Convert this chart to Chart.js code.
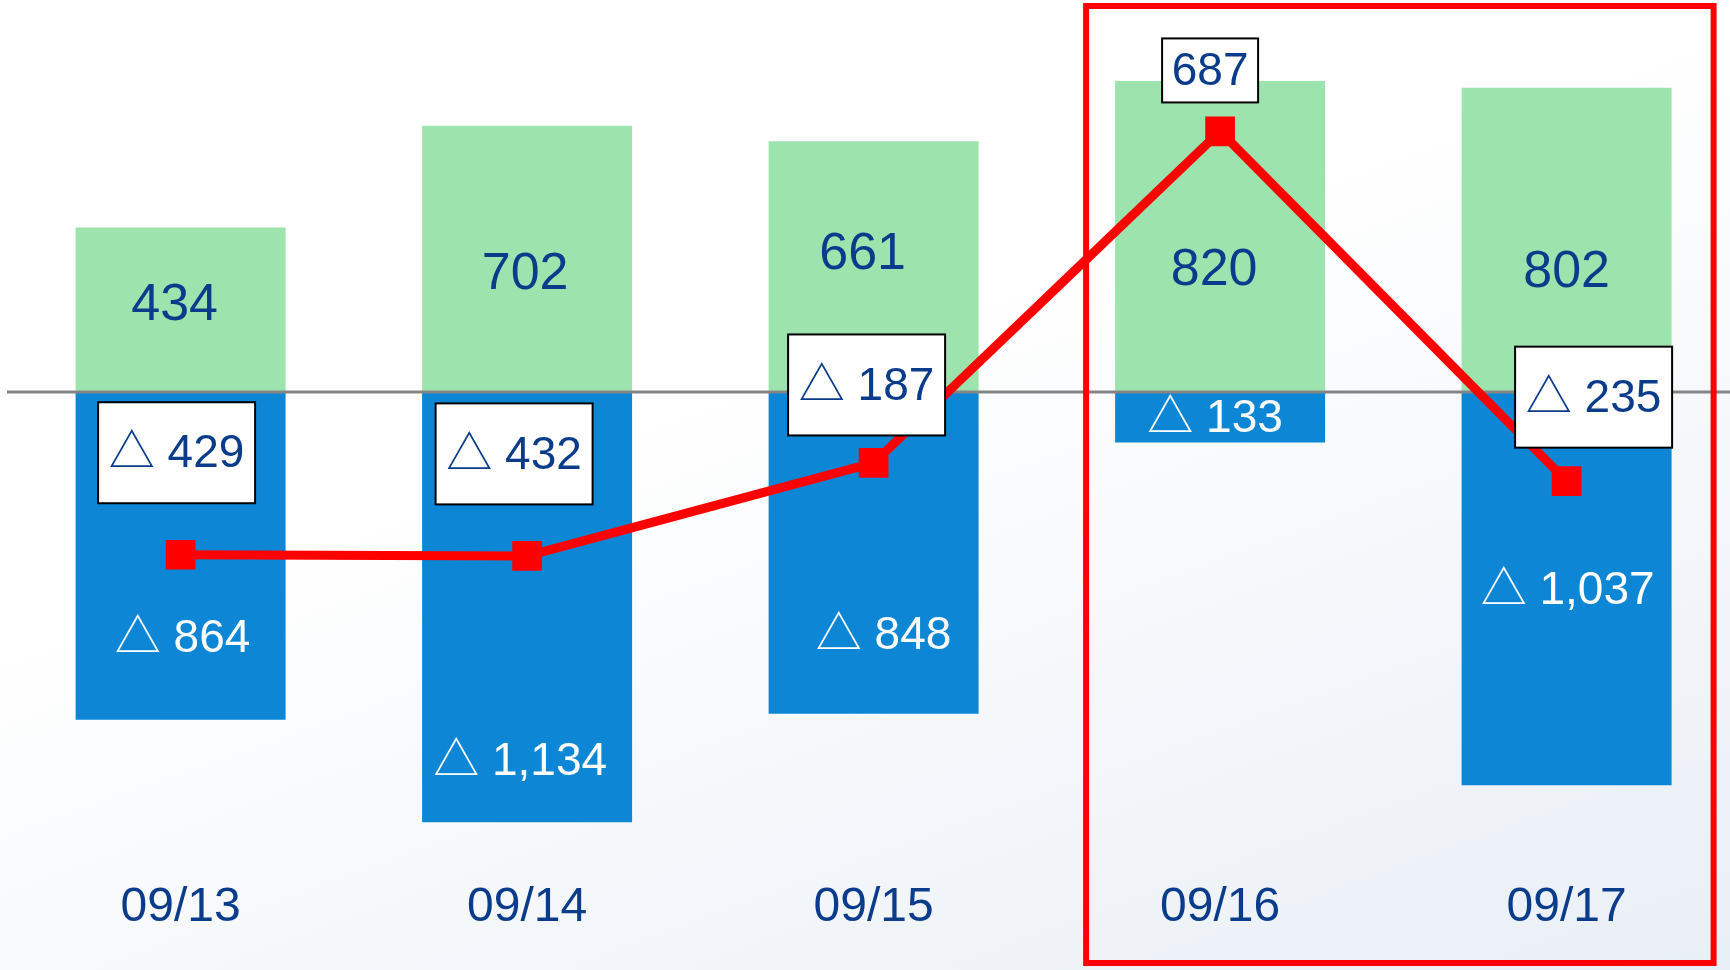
<!DOCTYPE html>
<html><head><meta charset="utf-8">
<script src="https://cdn.jsdelivr.net/npm/chart.js@4/dist/chart.umd.min.js"></script>
<style>
html,body{margin:0;padding:0;width:1730px;height:970px;overflow:hidden;
background:linear-gradient(160deg,#ffffff 0%,#ffffff 40%,#f3f6fa 72%,#e9eff6 100%);}
canvas{display:block;}
</style></head><body>
<canvas id="c" width="1740" height="970"></canvas>
<script>
const categories = ['09/13','09/14','09/15','09/16','09/17'];
const positiveValues = [434, 702, 661, 820, 802];
const negativeValues = [-864, -1134, -848, -133, -1037];
const netValues = [-429, -432, -187, 687, -235];
const highlighted = ['09/16','09/17'];

// label nudges in pixels (layout only)
const posLabelOffset = [[-6,-4.5],[-2,15.5],[-11,-11.5],[-6,34.5],[0,32.5]];
const negLabelOffset = [[2,83.5],[-7,155],[10,83],[-5,2],[1,3]];
const netLabelOffset = [[-4,-102],[-13,-102],[-7,-78],[-10,-61],[27,-84]];

const NAVY = '#0B3C8B';
const FONT = "'Liberation Sans', Arial, 'Noto Sans CJK JP', sans-serif";
function fmt(v){ const s = Math.abs(v).toLocaleString('en-US'); return v < 0 ? '△ ' + s : s; }

const decor = {
  id: 'decor',
  beforeDatasetDraw(chart, args) {
    if (args.index !== 2) return;
    const y = chart.scales.y.getPixelForValue(0);
    const ctx = chart.ctx;
    ctx.save();
    ctx.strokeStyle = '#858585'; ctx.lineWidth = 3;
    ctx.beginPath(); ctx.moveTo(7, y); ctx.lineTo(chart.width, y); ctx.stroke();
    ctx.restore();
  },
  afterDatasetDraw(chart, args) {
    if (args.index !== 0 && args.index !== 1) return;
    const ctx = chart.ctx;
    const pos = args.index === 0;
    const vals = pos ? positiveValues : negativeValues;
    const offs = pos ? posLabelOffset : negLabelOffset;
    ctx.save();
    ctx.font = (pos ? '52px ' : '46px ') + FONT;
    ctx.fillStyle = pos ? NAVY : '#ffffff';
    ctx.textAlign = 'center'; ctx.textBaseline = 'middle';
    args.meta.data.forEach((bar, i) => {
      const cy = (bar.y + bar.base) / 2;
      ctx.fillText(fmt(vals[i]), bar.x + offs[i][0], cy + offs[i][1]);
    });
    ctx.restore();
  },
  afterDatasetsDraw(chart) {
    const ctx = chart.ctx;
    const meta = chart.getDatasetMeta(2);
    ctx.save();
    ctx.font = '46px ' + FONT;
    ctx.textAlign = 'center'; ctx.textBaseline = 'middle';
    meta.data.forEach((pt, i) => {
      const v = netValues[i];
      const w = v < 0 ? 157 : 96, h = v < 0 ? 101 : 64;
      const cx = pt.x + netLabelOffset[i][0], cy = pt.y + netLabelOffset[i][1];
      ctx.fillStyle = '#ffffff'; ctx.fillRect(cx - w/2, cy - h/2, w, h);
      ctx.strokeStyle = '#000000'; ctx.lineWidth = 2; ctx.strokeRect(cx - w/2, cy - h/2, w, h);
      ctx.fillStyle = NAVY; ctx.fillText(fmt(v), cx, cy + 2);
    });
    const xs = chart.scales.x;
    const i0 = categories.indexOf(highlighted[0]);
    const i1 = categories.indexOf(highlighted[highlighted.length - 1]);
    const left = xs.getPixelForValue(i0) - 134;
    const right = xs.getPixelForValue(i1) + 147;
    ctx.strokeStyle = '#ff0000'; ctx.lineWidth = 6;
    ctx.strokeRect(left, 6, right - left, 957);
    ctx.restore();
  }
};

new Chart(document.getElementById('c'), {
  type: 'bar',
  data: {
    labels: categories,
    datasets: [
      { label: 'plus', data: positiveValues, backgroundColor: '#9DE3AE', order: 1,
        barPercentage: 0.606, categoryPercentage: 1 },
      { label: 'minus', data: negativeValues, backgroundColor: '#0D87D5', order: 2,
        barPercentage: 0.606, categoryPercentage: 1 },
      { type: 'line', label: 'net', data: netValues, order: 0,
        borderColor: '#FF0000', borderWidth: 9, tension: 0, fill: false,
        pointStyle: 'rect', pointRadius: 21, pointBackgroundColor: '#FF0000',
        pointBorderWidth: 0, pointHoverRadius: 21 }
    ]
  },
  options: {
    responsive: false,
    devicePixelRatio: 1,
    animation: false,
    layout: { autoPadding: false, padding: { top: 12.7, bottom: 2.2, left: 7.35, right: 0.15 } },
    plugins: { legend: { display: false }, tooltip: { enabled: false } },
    scales: {
      x: {
        stacked: true,
        grid: { display: false, drawTicks: false },
        border: { display: false },
        ticks: { color: NAVY, font: { size: 48, family: FONT }, padding: 31.5 }
      },
      y: { stacked: true, display: false, min: -1200, max: 1000 }
    }
  },
  plugins: [decor]
});
</script>
</body></html>
